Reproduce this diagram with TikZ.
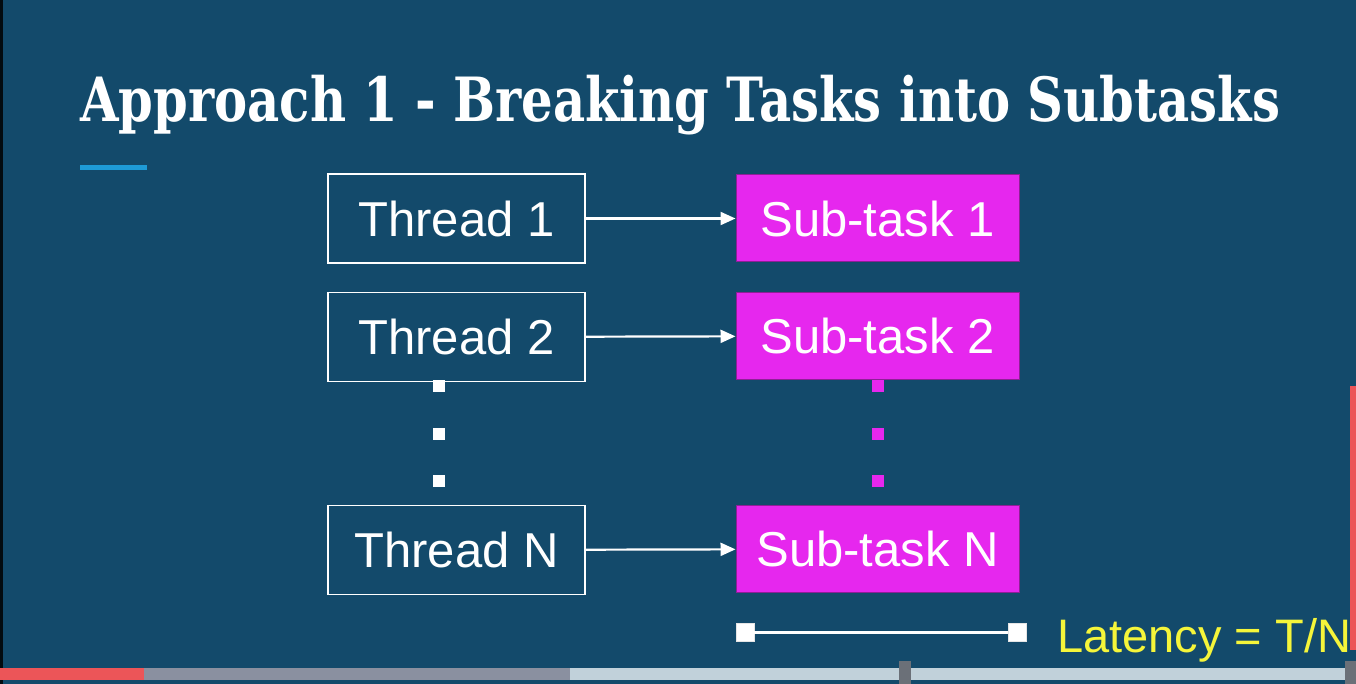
\documentclass[tikz,border=0pt]{standalone}
\usepackage{fontspec}
\setmainfont{Liberation Sans}
\newfontfamily\titlefont[FakeStretch=0.815]{DejaVu Serif}
\usetikzlibrary{positioning,arrows.meta}
\definecolor{slidebg}{HTML}{134A6B}
\definecolor{subfill}{HTML}{E627EE}
\definecolor{subedge}{HTML}{8E1F96}
\definecolor{accent}{HTML}{1E9BD7}
\definecolor{latency}{HTML}{F5F53A}
\definecolor{barred}{HTML}{EC5558}
\definecolor{bargray}{HTML}{8A90A0}
\definecolor{barlight}{HTML}{C1D1DA}
\definecolor{marker}{HTML}{6B7078}
\tikzset{
  thread/.style={draw=white,line width=1.5pt,minimum width=257pt,minimum height=89pt,
    text=white,font=\fontsize{49}{56}\selectfont},
  subtask/.style={draw=subedge,line width=1pt,fill=subfill,minimum width=283pt,minimum height=87pt,
    text=white,font=\fontsize{49}{56}\selectfont},
  link/.style={draw=white,line width=2.2pt,-{Triangle[length=15pt,width=13pt]}},
  endsq/.style={fill=white,draw=white!80!gray,inner sep=0pt,minimum size=18pt}
}
\begin{document}
\begin{tikzpicture}[x=1pt,y=-1pt]
  % slide background
  \fill[slidebg] (0,0) rectangle (1356,684);
  \fill[black!85!slidebg] (0,0) rectangle (3,684);
  \useasboundingbox (0,0) rectangle (1356,684);
  % title
  \node[anchor=base west,inner sep=0pt,text=white,font=\titlefont\bfseries\fontsize{61}{70}\selectfont]
    (title) at (80,122) {Approach 1 - Breaking Tasks into Subtasks};
  \fill[accent] (80,165) rectangle (147,170);
  % threads and subtasks
  \node[thread] (t1) at (456.5,218.5) {Thread 1};
  \node[thread] (t2) at (456.5,337) {Thread 2};
  \node[thread] (tn) at (456.5,550) {Thread N};
  \node[subtask] (s1) at (877.5,218.5) {Sub-task 1};
  \node[subtask] (s2) at (877.5,336) {Sub-task 2};
  \node[subtask] (sn) at (877.5,549) {Sub-task N};
  \draw[link] (t1) -- (s1);
  \draw[link] (t2) -- (s2);
  \draw[link] (tn) -- (sn);
  % dots
  \foreach \y in {386,434,481}{
    \fill[white] (433,\y-6) rectangle (445,\y+6);
    \fill[subfill] (872,\y-6) rectangle (884,\y+6);
  }
  % latency
  \node[endsq] (la) at (745,632) {};
  \node[endsq] (lb) at (1017,632) {};
  \draw[white,line width=3pt] (la) -- (lb);
  \node[anchor=base west,inner sep=0pt,text=latency,font=\fontsize{47}{56}\selectfont]
    (lat) at (1057,652) {Latency = T/N};
  % player bar
  \fill[barred] (1350,386) rectangle (1356,650);
  \fill[barred] (0,668) rectangle (144,680);
  \fill[bargray] (144,668) rectangle (570,680);
  \fill[barlight] (570,668) rectangle (1356,680);
  \fill[marker] (899,661) rectangle (911,684);
  \fill[marker] (1345,661) rectangle (1356,684);
\end{tikzpicture}
\end{document}
